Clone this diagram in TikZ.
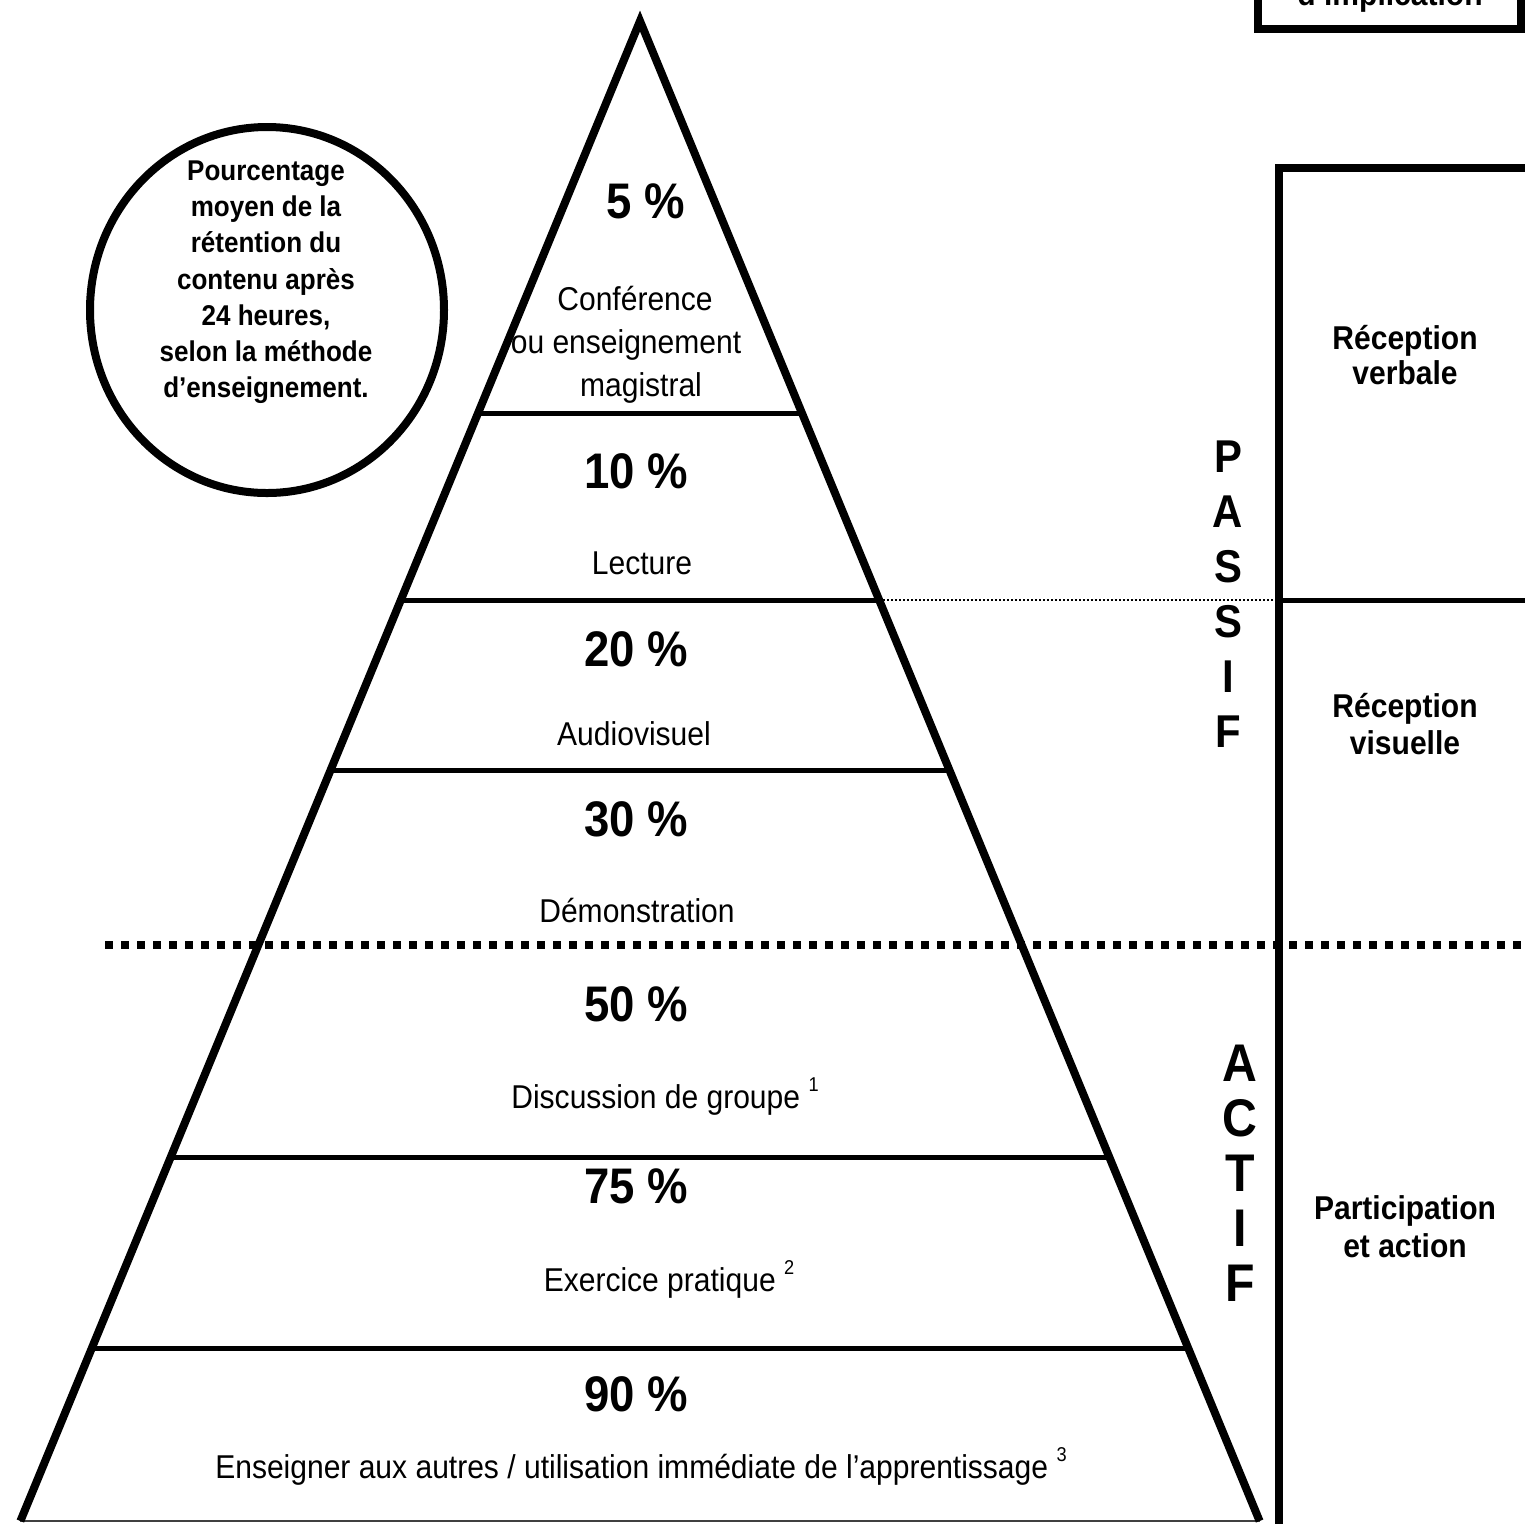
\documentclass[tikz,border=0pt]{standalone}
\usepackage{fontspec}
\setmainfont[FakeStretch=0.91]{Liberation Sans}
\begin{document}
\begin{tikzpicture}[x=0.5pt,y=-0.5pt,
  edge/.style={line width=4pt,line join=miter},
  levelline/.style={line width=2.5pt},
  pct/.style={font=\bfseries\fontsize{25}{29}\selectfont,anchor=base,inner sep=0pt},
  lab/.style={font=\fontsize{16.5}{19}\selectfont,anchor=base,inner sep=0pt},
  circtxt/.style={font=\bfseries\fontsize{14.3}{17}\selectfont,anchor=base,inner sep=0pt},
  sidetxt/.style={font=\bfseries\fontsize{16.5}{19}\selectfont,anchor=base,inner sep=0pt},
  passif/.style={font=\bfseries\fontsize{23}{26}\selectfont,anchor=base,inner sep=0pt},
  actif/.style={font=\bfseries\fontsize{26.5}{30}\selectfont,anchor=base,inner sep=0pt},
  boxline/.style={line width=4pt,line join=miter}
]
\newcommand{\supnum}[1]{\raisebox{0.5em}{\fontsize{10}{10}\selectfont #1}}
\useasboundingbox (0,0) rectangle (1525,1523);
\clip (0,0) rectangle (1525,1523);
\fill[white] (0,0) rectangle (1525,1523);

% pyramid
\coordinate (apex) at (640,21);
\coordinate (bl) at (20.4,1521);
\coordinate (br) at (1259.6,1521);
\coordinate (l1a) at (478.0,413);  \coordinate (l1b) at (802.0,413);
\coordinate (l2a) at (400.7,600);  \coordinate (l2b) at (879.3,600);
\coordinate (l3a) at (330.4,770);  \coordinate (l3b) at (949.6,770);
\coordinate (l4a) at (170.5,1157); \coordinate (l4b) at (1109.5,1157);
\coordinate (l5a) at (91.5,1348);  \coordinate (l5b) at (1188.5,1348);

\draw[line width=1pt,black!75] (bl) -- (br);
\draw[levelline] (l1a) -- (l1b);
\draw[levelline] (l2a) -- (l2b);
\draw[levelline] (l3a) -- (l3b);
\draw[levelline] (l4a) -- (l4b);
\draw[levelline] (l5a) -- (l5b);
\draw[edge] (bl) -- (apex) -- (br);

% right box
\coordinate (rbtop) at (1279,168);
\coordinate (rbbot) at (1279,1540);
\coordinate (rbright) at (1540,168);
\coordinate (rbmid) at (1279,600);
\coordinate (rbmidr) at (1540,600);
\draw[boxline] (rbbot) -- (rbtop) -- (rbright);
\draw[levelline] (rbmid) -- (rbmidr);

% thin dotted line
\draw[line width=0.75pt,dash pattern=on 0.75pt off 1.25pt] (l2b) -- (rbmid);

% thick dotted line
\coordinate (dl) at (105,945);
\coordinate (dr) at (1530,945);
\draw[line width=4pt,dash pattern=on 4pt off 4pt] (dl) -- (dr);

% top box
\draw[boxline] (1258,-50) rectangle (1521,28.5);
\node[sidetxt] (impl) at (1390,5) {d’implication};

% circle
\draw[line width=4pt] (267,310) ellipse [x radius=88.5pt, y radius=91.5pt];
\begin{scope}
\clip (100,140) rectangle (440,403);
\node[circtxt] (c1) at (266,180) {Pourcentage};
\node[circtxt] (c2) at (266,216) {moyen de la};
\node[circtxt] (c3) at (266,252) {rétention du};
\node[circtxt] (c4) at (266,289) {contenu après};
\node[circtxt] (c5) at (266,325) {24 heures,};
\node[circtxt] (c6) at (266,361) {selon la méthode};
\node[circtxt] (c7) at (266,397) {d’enseignement.};
\end{scope}

% percentages
\node[pct] (p5) at (646,218) {5 \%};
\node[pct] (p10) at (636,488) {10 \%};
\node[pct] (p20) at (636,666) {20 \%};
\node[pct] (p30) at (636,836) {30 \%};
\node[pct] (p50) at (636,1021) {50 \%};
\node[pct] (p75) at (636,1203) {75 \%};
\node[pct] (p90) at (636,1411) {90 \%};

% labels
\node[lab] (t1a) at (635,310) {Conférence};
\node[lab] (t1b) at (626,353) {ou enseignement};
\node[lab] (t1c) at (641,396) {magistral};
\node[lab] (t2) at (642,574) {Lecture};
\node[lab] (t3) at (634,745) {Audiovisuel};
\node[lab] (t4) at (637,922) {Démonstration};
\node[lab] (t5) at (665,1108) {Discussion de groupe \supnum{1}};
\node[lab] (t6) at (669,1291) {Exercice pratique \supnum{2}};
\node[lab] (t7) at (641,1478) {Enseigner aux autres / utilisation immédiate de l’apprentissage \supnum{3}};

% PASSIF
\node[passif] (ps1) at (1228,472) {P};
\node[passif] (ps2) at (1228,527) {A};
\node[passif] (ps3) at (1228,582) {S};
\node[passif] (ps4) at (1228,637) {S};
\node[passif] (ps5) at (1228,692) {I};
\node[passif] (ps6) at (1228,747) {F};

% ACTIF
\node[actif] (ac1) at (1240,1081) {A};
\node[actif] (ac2) at (1240,1136) {C};
\node[actif] (ac3) at (1240,1191) {T};
\node[actif] (ac4) at (1240,1246) {I};
\node[actif] (ac5) at (1240,1301) {F};

% side labels
\node[sidetxt] (r1a) at (1405,349) {Réception};
\node[sidetxt] (r1b) at (1405,384) {verbale};
\node[sidetxt] (r2a) at (1405,717) {Réception};
\node[sidetxt] (r2b) at (1405,754) {visuelle};
\node[sidetxt] (r3a) at (1405,1219) {Participation};
\node[sidetxt] (r3b) at (1405,1257) {et action};
\end{tikzpicture}
\end{document}
